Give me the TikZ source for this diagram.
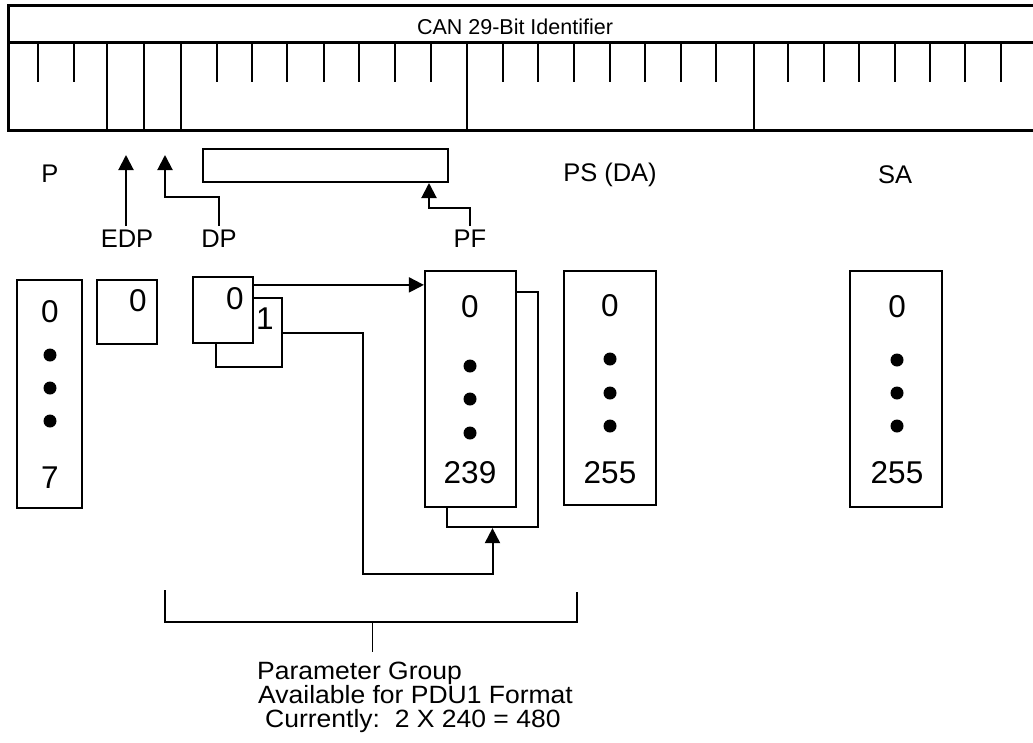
\documentclass[tikz,border=0pt]{standalone}
\usepackage{fontspec}
\setmainfont{Liberation Sans}
\newfontfamily\notefont[FakeStretch=1.06]{Liberation Sans}
\usetikzlibrary{arrows.meta}
\begin{document}
\begin{tikzpicture}[x=1pt,y=-1pt,
  box/.style={draw,line width=2.2pt,fill=white,inner sep=0pt},
  num/.style={font=\fontsize{31.5}{31.5}\selectfont,inner sep=0pt},
  lbl/.style={font=\fontsize{25.5}{25.5}\selectfont,inner sep=4pt},
  note/.style={font=\notefont\fontsize{25}{25}\selectfont,inner sep=0pt,anchor=base west},
  dot/.style={circle,fill=black,minimum size=13pt,inner sep=0pt},
  arr/.style={line width=2pt,-{Triangle[width=15pt,length=15pt]}},
  frame/.style={line width=3pt},
  divider/.style={line width=2.5pt},
  tick/.style={line width=2pt},
  brk/.style={line width=2pt},
  stem/.style={line width=1pt}]
\useasboundingbox (0,0) rectangle (1033,742);

% ---- identifier bar ----
\draw[frame] (1033,5) -- (8,5) -- (8,130) -- (1033,130);
\draw[frame] (8,42) -- (1033,42);
\node[font=\fontsize{21.5}{21.5}\selectfont,inner sep=0pt] (title) at (515,27) {CAN 29-Bit Identifier};
\foreach \x in {107,144,181,467,754} \draw[divider] (\x,42) -- (\x,130);
\foreach \x in {38,74,217,252,287,324,359,395,431,503,538,574,610,645,681,716,788,824,859,895,930,965,1001}
  \draw[tick] (\x,42) -- (\x,82);

% ---- field labels ----
\node[lbl] (P) at (50,174) {P};
\node[lbl] (psda) at (610,175) {PS (DA)};
\node[lbl] (SA) at (895,175) {SA};
\node[lbl] (edp) at (127,239) {EDP};
\node[lbl] (dp) at (219,239) {DP};
\node[lbl] (pf) at (470,239) {PF};

\node[draw,line width=2pt,inner sep=0pt,minimum width=245pt,minimum height=33pt] (pfbar) at (325.5,165.5) {};

\coordinate (edpt) at (126,155);
\coordinate (dpt) at (165,155);
\coordinate (dpk) at (165,197);
\coordinate (pfk) at (429,208);
\draw[arr] (edpt |- edp.north) -- (edpt);
\draw[arr] (dp.north) |- (dpk) -- (dpt);
\draw[arr] (pf.north) |- (pfk) -- (pfk |- pfbar.south);

% ---- P box ----
\node[box,line width=2.6pt,minimum width=65pt,minimum height=228pt] (pbox) at (49.5,394) {};
\node[num] (p0) at (50,312) {0};
\node[dot] (pd1) at (50,355) {};
\node[dot] (pd2) at (50,388) {};
\node[dot] (pd3) at (50,421) {};
\node[num] (p7) at (50,478) {7};

% ---- EDP box ----
\node[box,minimum width=60pt,minimum height=64pt] (edpbox) at (127,312) {};
\node[num] (e0) at (138,301) {0};

% ---- DP boxes ----
\node[box,minimum width=66pt,minimum height=69pt] (dp1) at (249,332.5) {};
\node[num] (d1) at (265,319) {1};
\node[box,minimum width=60pt,minimum height=66pt] (dp0) at (223,310) {};
\node[num] (d0) at (235,299) {0};

% ---- PF boxes ----
\node[box,minimum width=91pt,minimum height=235pt] (pf1) at (492.5,409.5) {};
\node[box,minimum width=91pt,minimum height=236pt] (pf0) at (470.5,389) {};
\node[num] (f0) at (470,307) {0};
\node[dot] (fd1) at (470,366) {};
\node[dot] (fd2) at (470,399) {};
\node[dot] (fd3) at (470,433) {};
\node[num] (f239) at (470,473) {239};

% ---- PS box ----
\node[box,minimum width=92pt,minimum height=234pt] (psbox) at (610,388) {};
\node[num] (s0) at (610,306) {0};
\node[dot] (sd1) at (610,359) {};
\node[dot] (sd2) at (610,393) {};
\node[dot] (sd3) at (610,426) {};
\node[num] (s255) at (610,473) {255};

% ---- SA box ----
\node[box,minimum width=92pt,minimum height=236pt] (sabox) at (896,389) {};
\node[num] (a0) at (897,307) {0};
\node[dot] (ad1) at (897,360) {};
\node[dot] (ad2) at (897,393) {};
\node[dot] (ad3) at (897,426) {};
\node[num] (a255) at (897,473) {255};

% ---- DP to PF connectors ----
\coordinate (a1) at ([yshift=-9pt]dp0.north east);
\draw[arr] (a1) -- (a1 -| pf0.west);
\coordinate (r1) at (363,574);
\draw[arr] (dp1.east) -| (r1) -| (pf1.south);

% ---- bracket ----
\coordinate (bl) at (165,590);
\coordinate (bl0) at (165,622);
\coordinate (br0) at (577,622);
\coordinate (br) at (577,592);
\draw[brk] (bl) -- (bl0) -- (br0) -- (br);
\coordinate (bm) at (372,622);
\coordinate (bs) at (372,652);
\draw[stem] (bm) -- (bs);

\node[note] (pg1) at (257,679) {Parameter Group};
\node[note] (pg2) at (258,703) {Available for PDU1 Format};
\node[note] (pg3) at (265,727) {Currently:\ \ 2 X 240 = 480};
\end{tikzpicture}
\end{document}
